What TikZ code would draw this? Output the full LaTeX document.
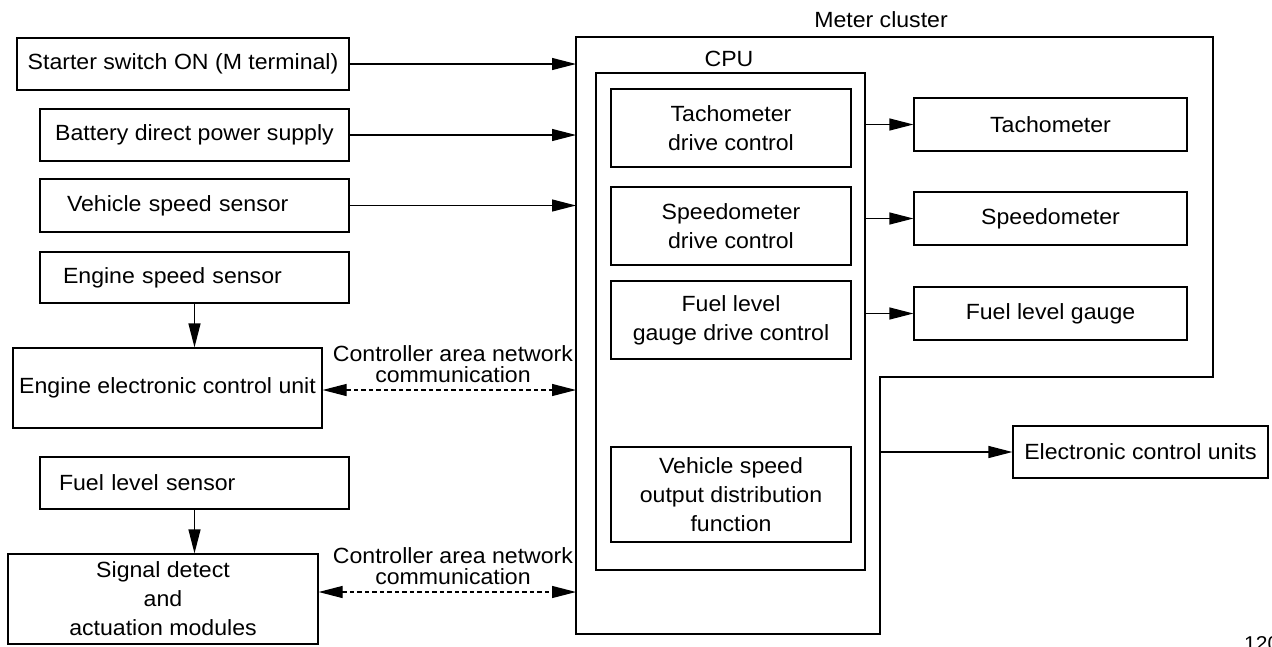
\documentclass[tikz,border=0pt]{standalone}
\usepackage{fontspec}
\setmainfont[FakeStretch=1.05]{Liberation Sans}
\usetikzlibrary{arrows.meta}
\begin{document}
\begin{tikzpicture}[x=1pt,y=-1pt,
  box/.style={draw, line width=1.2pt, inner sep=0pt, align=center, font=\fontsize{22}{29}\selectfont},
  lbox/.style={box, align=left, text width=#1},
  txt/.style={inner sep=0pt, align=center, font=\fontsize{22}{21}\selectfont},
  arr/.style={line width=1.2pt, -{Triangle[length=24pt,width=12pt]}},
  darr/.style={line width=1.2pt, dash pattern=on 4.5pt off 3pt, {Triangle[length=24pt,width=12pt]}-{Triangle[length=24pt,width=12pt]}}
]
\useasboundingbox (0,0) rectangle (1272,646);

% meter cluster outline
\draw[line width=1.2pt] (576,37) -- (1213,37) -- (1213,377) -- (880,377) -- (880,634) -- (576,634) -- cycle;
\coordinate (mL) at (576,0);
\coordinate (mR) at (880,0);
\node[txt] (mclabel) at (881,20) {Meter cluster};

% left side
\node[box, minimum width=332, minimum height=52] (starter) at (183,64) {Starter switch ON (M terminal)};
\node[box, minimum width=309, minimum height=52] (battery) at (194.5,135) {Battery direct power supply};
\node[lbox=255, minimum width=309, minimum height=53] (vehicle) at (194.5,205.5) {Vehicle speed sensor};
\node[lbox=263, minimum width=309, minimum height=51] (engspd) at (194.5,277.5) {Engine speed sensor};
\node[box, minimum width=309, minimum height=80] (ecu) at (167.5,388) {Engine electronic control unit};
\node[lbox=271, minimum width=309, minimum height=52] (fuelsen) at (194.5,483) {Fuel level sensor};
\node[box, minimum width=310, minimum height=90] (signal) at (163,599) {Signal detect\\and\\actuation modules};

% CPU
\node[box, minimum width=269, minimum height=497] (cpu) at (730.5,321.5) {};
\node[txt] (cpulabel) at (729,59) {CPU};
\node[box, minimum width=240, minimum height=78] (tachdrv) at (731,128) {Tachometer\\drive control};
\node[box, minimum width=240, minimum height=78] (spddrv) at (731,226) {Speedometer\\drive control};
\node[box, minimum width=240, minimum height=78] (fueldrv) at (731,320) {Fuel level\\gauge drive control};
\node[box, minimum width=240, minimum height=95] (vsod) at (731,494.5) {Vehicle speed\\output distribution\\function};

% right side
\node[box, minimum width=273, minimum height=53] (tach) at (1050.5,124.5) {Tachometer};
\node[box, minimum width=273, minimum height=53] (spd) at (1050.5,218.5) {Speedometer};
\node[box, minimum width=273, minimum height=53] (fuelg) at (1050.5,313.5) {Fuel level gauge};
\node[box, minimum width=255, minimum height=52] (ecus) at (1140.5,452) {Electronic control units};

% inputs
\draw[arr] (starter.east) -- (starter.east -| mL);
\draw[arr] (battery.east) -- (battery.east -| mL);
\draw[arr] (vehicle.east) -- (vehicle.east -| mL);
\draw[arr] (engspd.south) -- (engspd.south |- ecu.north);
\draw[arr] (fuelsen.south) -- (fuelsen.south |- signal.north);

% CAN links
\coordinate (can1) at (576,390);
\coordinate (can2) at (576,592);
\draw[darr] (can1 -| ecu.east) -- (can1);
\draw[darr] (can2 -| signal.east) -- (can2);
\node[txt] (canlabel1) at (453,364.5) {Controller area network\\communication};
\node[txt] (canlabel2) at (453,566) {Controller area network\\communication};

% outputs
\draw[arr] (tach.west -| cpu.east) -- (tach.west);
\draw[arr] (spd.west -| cpu.east) -- (spd.west);
\draw[arr] (fuelg.west -| cpu.east) -- (fuelg.west);
\draw[arr] (ecus.west -| mR) -- (ecus.west);

% figure number (cut off)
\node[anchor=base west, inner sep=0pt, font=\fontsize{20}{20}\selectfont] (fignum) at (1244,650) {120};
\end{tikzpicture}
\end{document}
